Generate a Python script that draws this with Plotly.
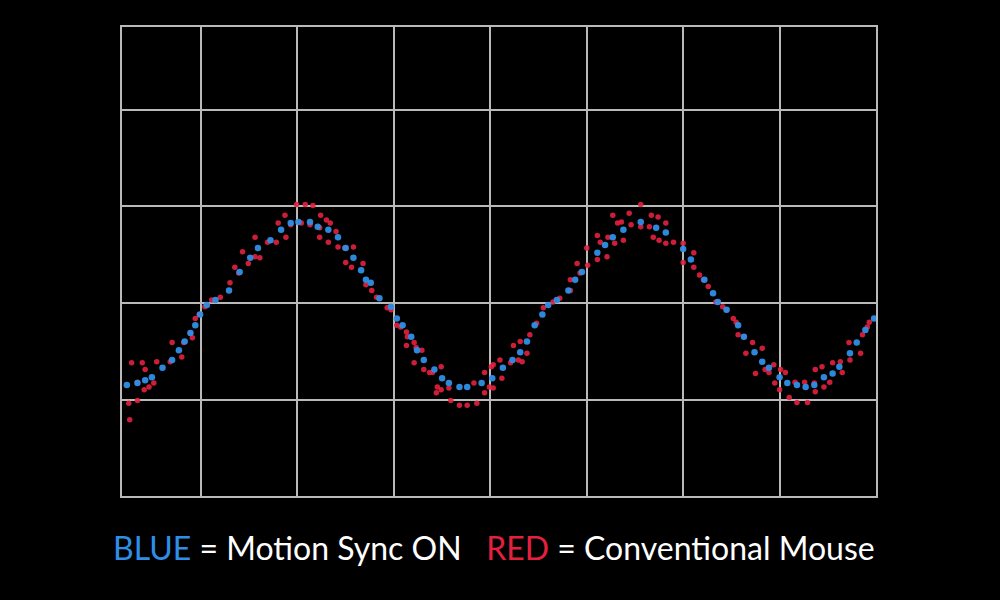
import plotly.graph_objects as go

# Motion Sync ON (blue) samples, in grid units
blue_x = [0.23, 0.34, 0.42, 0.49, 0.60, 0.70, 0.77, 0.83, 0.89, 0.94, 0.99, 1.06, 1.15, 1.29, 1.40,
          1.51, 1.59, 1.72, 1.83, 1.93, 2.01, 2.13, 2.21, 2.32, 2.42, 2.50, 2.58, 2.66, 2.71, 2.76,
          2.85, 2.97, 3.03, 3.09, 3.18, 3.24, 3.31, 3.42, 3.50, 3.57, 3.68, 3.76, 3.91, 4.02, 4.13,
          4.23, 4.31, 4.38, 4.46, 4.54, 4.60, 4.69, 4.81, 4.88, 4.95, 5.11, 5.19, 5.27, 5.38, 5.56,
          5.72, 5.82, 6.00, 6.08, 6.22, 6.31, 6.36, 6.45, 6.57, 6.63, 6.74, 6.82, 6.89, 7.00, 7.08,
          7.18, 7.27, 7.36, 7.46, 7.55, 7.62, 7.73, 7.80, 7.89, 7.98]
blue_y = [1.15, 1.17, 1.20, 1.23, 1.33, 1.41, 1.51, 1.60, 1.69, 1.77, 1.88, 1.98, 2.03, 2.13, 2.32,
          2.47, 2.57, 2.65, 2.76, 2.83, 2.84, 2.84, 2.79, 2.76, 2.68, 2.57, 2.47, 2.34, 2.24, 2.21,
          2.05, 1.96, 1.84, 1.77, 1.65, 1.51, 1.41, 1.31, 1.22, 1.17, 1.13, 1.13, 1.17, 1.22, 1.33,
          1.41, 1.49, 1.60, 1.77, 1.88, 1.98, 2.03, 2.13, 2.24, 2.32, 2.52, 2.60, 2.68, 2.76, 2.84,
          2.78, 2.73, 2.56, 2.45, 2.24, 2.10, 2.01, 1.93, 1.77, 1.65, 1.49, 1.39, 1.33, 1.23, 1.17,
          1.15, 1.13, 1.15, 1.23, 1.27, 1.34, 1.48, 1.59, 1.72, 1.84]

# Conventional mouse (red) samples, in grid units
red_x = [0.15, 0.15, 0.25, 0.26, 0.34, 0.34, 0.28, 0.39, 0.42, 0.41, 0.46, 0.51, 0.54, 0.68, 0.70,
         0.80, 0.82, 0.89, 0.91, 0.94, 0.98, 1.04, 1.11, 1.20, 1.30, 1.35, 1.39, 1.43,
         1.49, 1.56, 1.56, 1.61, 1.69, 1.78, 1.80, 1.87, 1.88, 1.93, 1.99, 2.08, 2.16, 2.04, 2.13,
         2.23, 2.24, 2.23, 2.30, 2.34, 2.32, 2.40, 2.42, 2.49, 2.58, 2.50, 2.56, 2.68, 2.71,
         2.77, 2.82, 2.93, 2.97, 3.03, 3.07, 3.13, 3.14, 3.13, 3.21, 3.23, 3.29, 3.21, 3.31, 3.37,
         3.40, 3.49, 3.45, 3.49, 3.44, 3.57, 3.59, 3.68, 3.76, 3.86, 3.83, 3.94, 3.94, 4.01, 3.99,
         4.03, 4.03, 4.10, 4.12, 4.21, 4.24, 4.31, 4.29, 4.33, 4.38, 4.41, 4.48, 4.55, 4.65, 4.72,
         4.83, 4.83, 4.90, 4.93, 5.01, 5.00, 5.11, 5.11, 5.14, 5.21, 5.22, 5.27, 5.29, 5.32,
         5.36, 5.38, 5.44, 5.46, 5.56, 5.56, 5.65, 5.67, 5.74, 5.69, 5.75, 5.82, 5.82, 5.90, 6.00,
         6.00, 6.11, 6.11, 6.17, 6.21, 6.26, 6.34, 6.41, 6.45, 6.52, 6.55, 6.57, 6.63, 6.65,
         6.72, 6.75, 6.82, 6.85, 6.89, 6.94, 6.95, 7.00, 7.01, 7.06, 7.10, 7.18, 7.29, 7.16, 7.26,
         7.36, 7.37, 7.37, 7.44, 7.46, 7.52, 7.55, 7.63, 7.65, 7.72, 7.73, 7.84, 7.86, 7.91, 7.93,
         8.03, 8.10]
red_y = [1.17, 0.99, 0.96, 0.79, 0.99, 1.18, 1.38, 1.38, 1.31, 1.10, 1.13, 1.17, 1.39, 1.39, 1.59,
         1.44, 1.59, 1.69, 1.64, 1.84, 1.88, 1.96, 2.03, 2.06, 2.21, 2.37, 2.31, 2.53,
         2.41, 2.68, 2.48, 2.47, 2.63, 2.63, 2.83, 2.91, 2.68, 2.81, 3.02, 3.02, 3.01, 2.83, 2.81,
         2.78, 2.91, 2.68, 2.86, 2.83, 2.63, 2.74, 2.58, 2.57, 2.58, 2.42, 2.37, 2.41, 2.19,
         2.13, 2.06, 1.95, 1.93, 1.77, 1.75, 1.70, 1.65, 1.56, 1.59, 1.54, 1.51, 1.38, 1.31, 1.28,
         1.28, 1.34, 1.13, 1.10, 1.07, 1.12, 0.99, 0.94, 0.94, 0.96, 1.17, 1.07, 1.28, 1.34, 1.13,
         1.36, 1.12, 1.41, 1.22, 1.38, 1.56, 1.60, 1.41, 1.39, 1.48, 1.67, 1.79, 1.95, 2.01, 2.05,
         2.24, 2.13, 2.41, 2.31, 2.39, 2.57, 2.70, 2.45, 2.63, 2.48, 2.68, 2.91, 2.62, 2.83,
         2.84, 2.65, 2.93, 2.81, 3.02, 2.79, 2.79, 2.91, 2.89, 2.68, 2.65, 2.83, 2.62, 2.63, 2.62,
         2.42, 2.52, 2.37, 2.29, 2.24, 2.17, 2.01, 1.96, 1.93, 1.84, 1.80, 1.67, 1.65, 1.48,
         1.59, 1.27, 1.53, 1.31, 1.28, 1.36, 1.17, 1.10, 1.31, 1.28, 1.02, 0.97, 0.97, 1.18, 1.18,
         1.17, 1.08, 1.31, 1.34, 1.13, 1.18, 1.38, 1.39, 1.28, 1.59, 1.41, 1.48, 1.67, 1.75, 1.80,
         1.95, 2.00]

BLUE = "#2f8fe6"
RED = "#e3213f"

fig = go.Figure()
fig.add_trace(go.Scatter(x=red_x, y=red_y, mode="markers", cliponaxis=False,
                         marker=dict(color=RED, size=5.5, opacity=0.9, line=dict(width=0)),
                         hoverinfo="skip", showlegend=False))
fig.add_trace(go.Scatter(x=blue_x, y=blue_y, mode="markers", cliponaxis=False,
                         marker=dict(color=BLUE, size=6.5, opacity=0.95, line=dict(width=0)),
                         hoverinfo="skip", showlegend=False))

grid = dict(showgrid=True, gridcolor="#b9b9b9", gridwidth=2, zeroline=False,
            showticklabels=False, ticks="", showline=True, linecolor="#b9b9b9",
            linewidth=2, mirror=True, tickmode="linear", tick0=0, dtick=1, fixedrange=True)

fig.update_layout(
    width=1000, height=600,
    paper_bgcolor="black", plot_bgcolor="black",
    margin=dict(l=122, r=124, t=27, b=104),
    xaxis=dict(range=[0.18, 8.0], **grid),
    yaxis=dict(range=[0, 4.86], **grid),
    annotations=[dict(
        xref="paper", yref="paper", x=0.493, y=-0.109, xanchor="center", yanchor="middle",
        showarrow=False,
        text=(f"<span style='color:{BLUE}'>BLUE</span> = Motion Sync ON&nbsp;&nbsp;&nbsp;"
              f"<span style='color:{RED}'>RED</span> = Conventional Mouse"),
        font=dict(family="Lato", size=32, color="white"),
    )],
)

fig.write_html("out.html", config={"displayModeBar": False},
               post_script="document.body.style.margin='0';document.body.style.background='black';")
